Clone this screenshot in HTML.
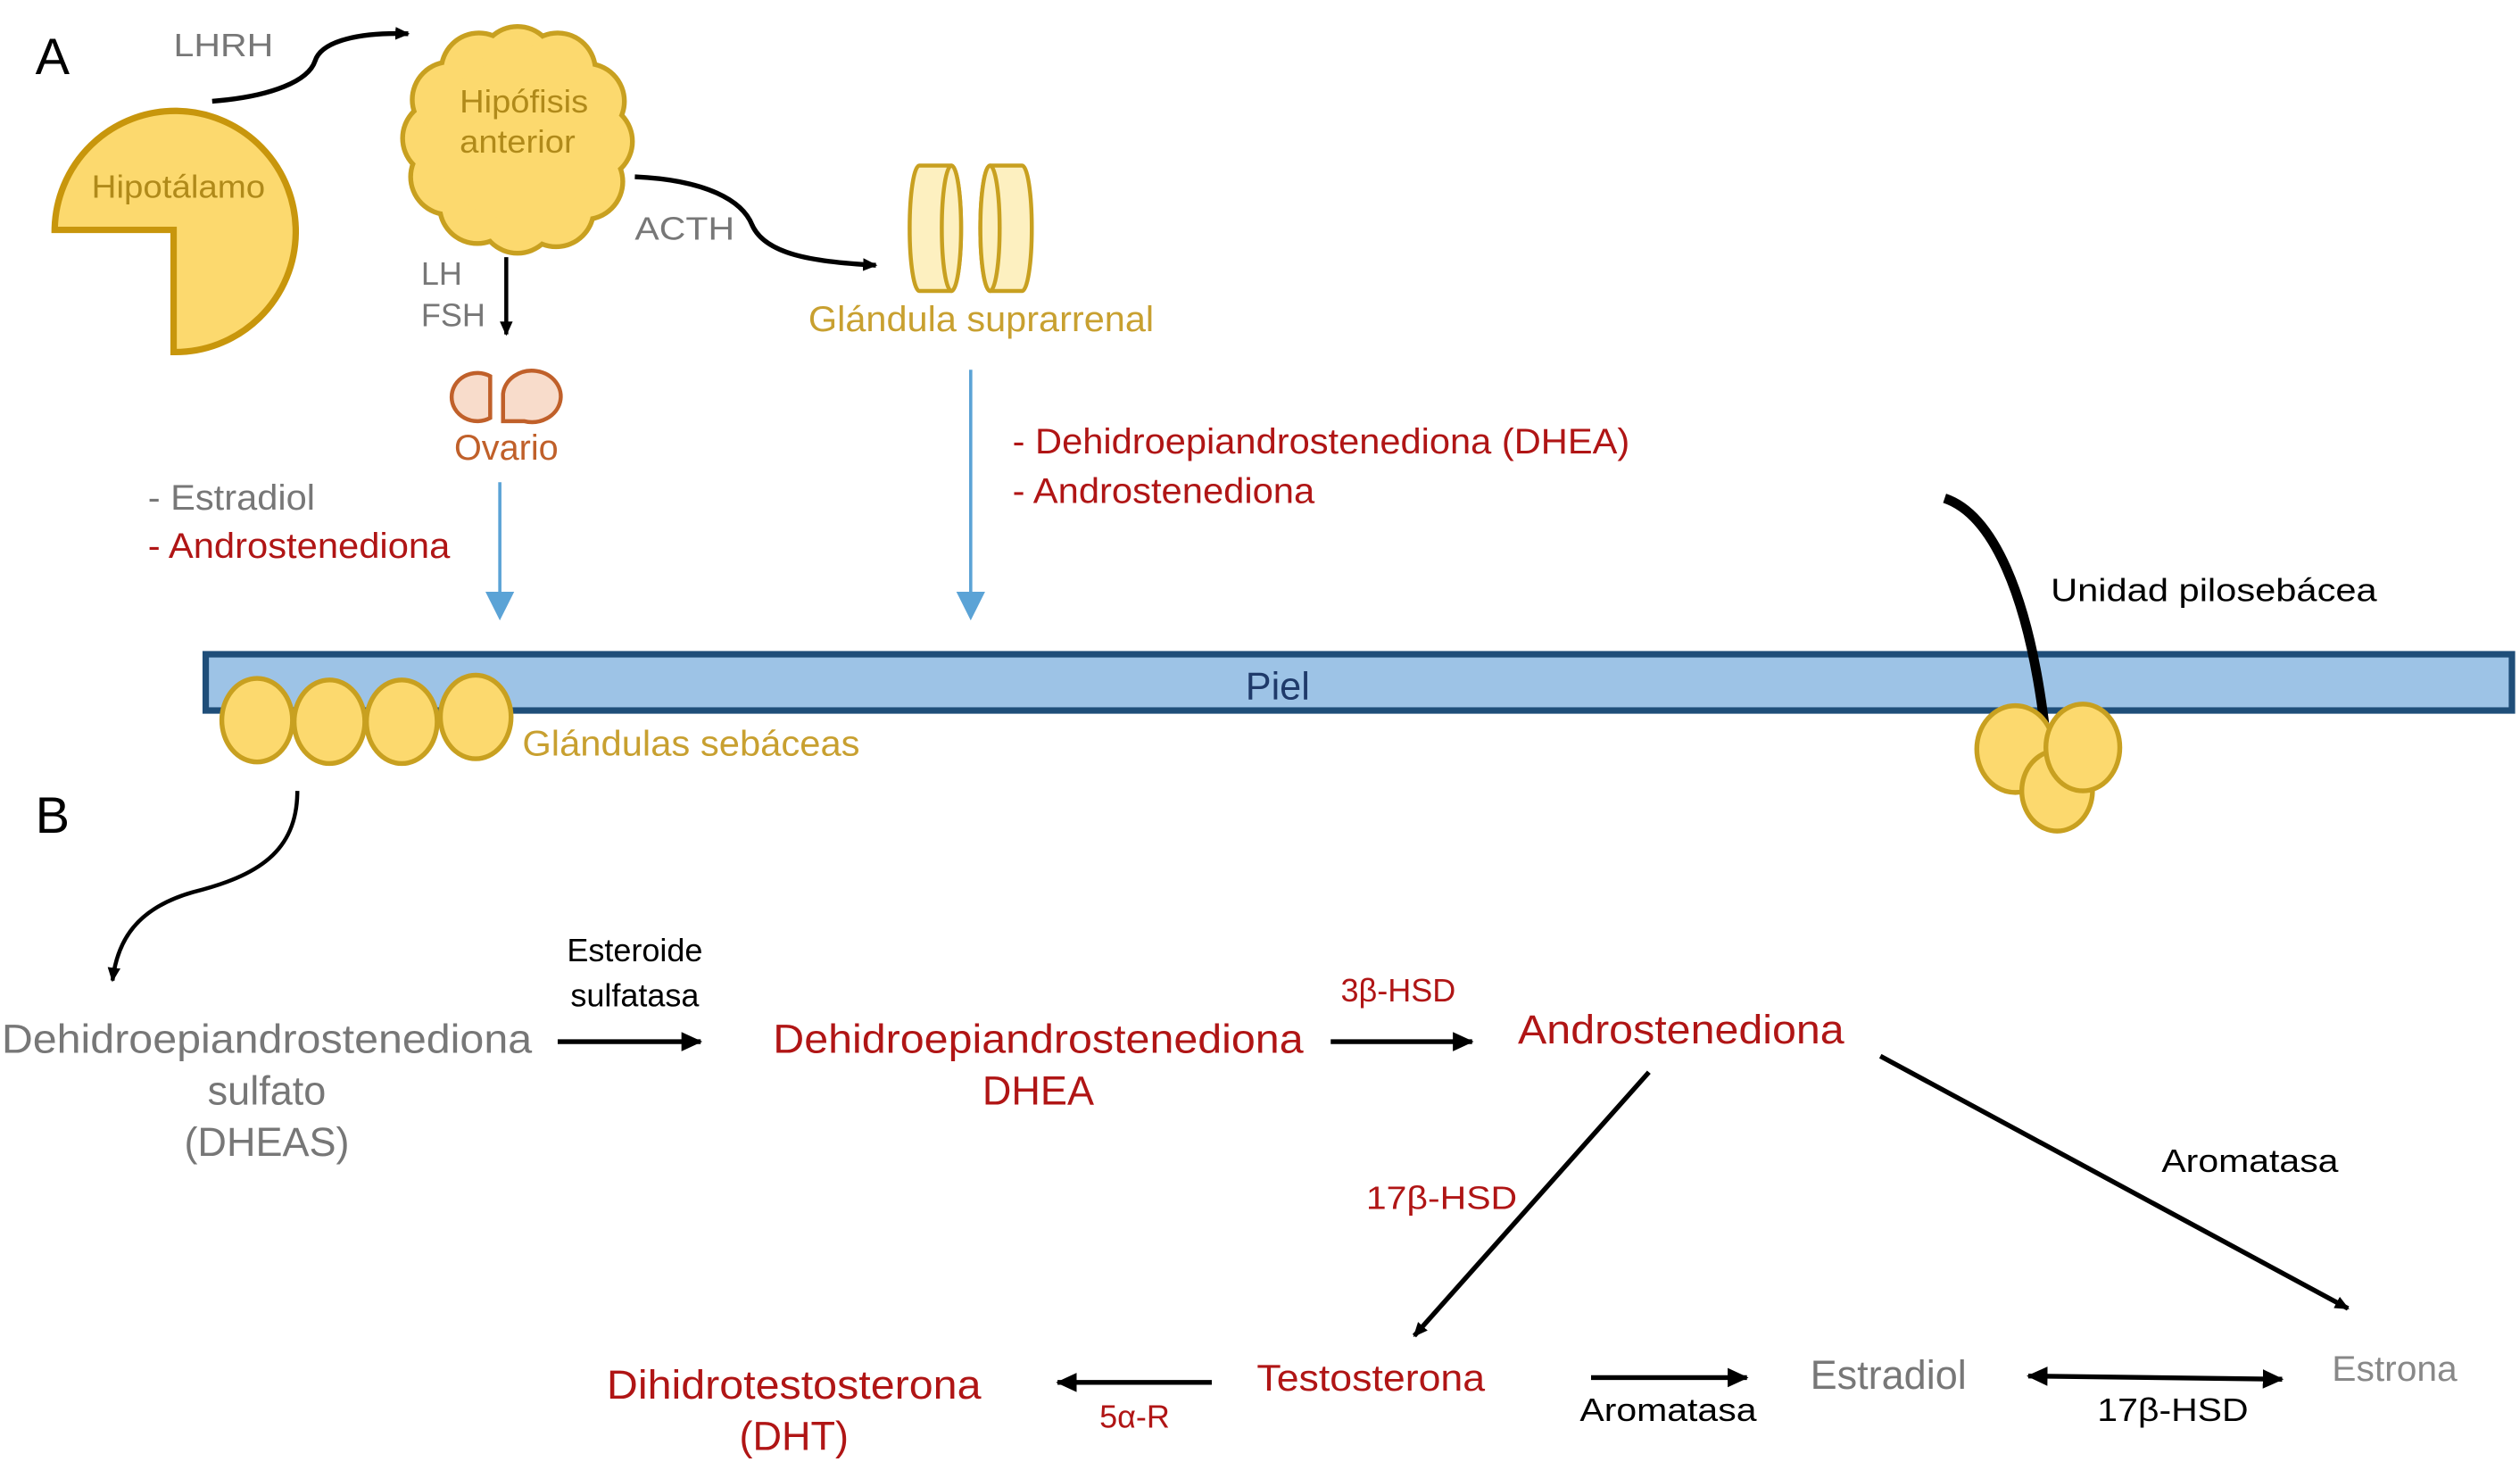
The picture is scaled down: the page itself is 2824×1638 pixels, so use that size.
<!DOCTYPE html>
<html><head><meta charset="utf-8"><style>html,body{margin:0;padding:0;background:#fff}svg{display:block}text{font-family:"Liberation Sans",sans-serif}</style></head>
<body>
<svg width="2824" height="1638" viewBox="0 0 1568 909.5" xmlns="http://www.w3.org/2000/svg">
<defs>
<marker id="ab" markerWidth="10" markerHeight="10" refX="8" refY="5" orient="auto" markerUnits="userSpaceOnUse"><path d="M0,1 L9,5 L0,9 Z" fill="#000"/></marker>
<marker id="abs" markerWidth="14" markerHeight="14" refX="12" refY="7" orient="auto-start-reverse" markerUnits="userSpaceOnUse"><path d="M0,1 L13,7 L0,13 Z" fill="#000"/></marker>
<marker id="bl" markerWidth="20" markerHeight="20" refX="10" refY="10" orient="auto" markerUnits="userSpaceOnUse"><path d="M0,1 L18,10 L0,19 Z" fill="#5ba3d6"/></marker>
</defs>
<rect width="1568" height="910" fill="#fff"/>
<text x="22" y="46" font-size="32">A</text>
<text x="22" y="518" font-size="32">B</text>
<text x="108" y="35" font-size="20" fill="#777" textLength="62" lengthAdjust="spacingAndGlyphs">LHRH</text>
<path d="M132,63 C170,60 192,50 196,38 C200,25 225,20 254,21" fill="none" stroke="#000" stroke-width="3" marker-end="url(#ab)"/>
<path d="M34,143 A75,75 0 1 1 108,219 L108,143 Z" fill="#fcd96e" stroke="#c8960c" stroke-width="4"/>
<text x="111" y="123" font-size="20" fill="#b08a1a" text-anchor="middle" textLength="108" lengthAdjust="spacingAndGlyphs">Hipotálamo</text>
<g stroke="#c8a020" stroke-width="6" fill="#fcd96e">
<circle cx="370" cy="88" r="22"/><circle cx="364" cy="113" r="22"/><circle cx="346" cy="130" r="22"/><circle cx="322" cy="134" r="22"/><circle cx="297" cy="128" r="22"/><circle cx="279" cy="110" r="22"/><circle cx="274" cy="86" r="22"/><circle cx="280" cy="62" r="22"/><circle cx="298" cy="44" r="22"/><circle cx="322" cy="40" r="22"/><circle cx="347" cy="44" r="22"/><circle cx="365" cy="63" r="22"/>
</g>
<g fill="#fcd96e">
<circle cx="370" cy="88" r="22"/><circle cx="364" cy="113" r="22"/><circle cx="346" cy="130" r="22"/><circle cx="322" cy="134" r="22"/><circle cx="297" cy="128" r="22"/><circle cx="279" cy="110" r="22"/><circle cx="274" cy="86" r="22"/><circle cx="280" cy="62" r="22"/><circle cx="298" cy="44" r="22"/><circle cx="322" cy="40" r="22"/><circle cx="347" cy="44" r="22"/><circle cx="365" cy="63" r="22"/>
<ellipse cx="322" cy="87" rx="52" ry="50"/>
</g>
<text x="326" y="70" font-size="20" fill="#b08a1a" text-anchor="middle" textLength="80" lengthAdjust="spacingAndGlyphs">Hipófisis</text>
<text x="322" y="95" font-size="20" fill="#b08a1a" text-anchor="middle" textLength="72" lengthAdjust="spacingAndGlyphs">anterior</text>
<text x="395" y="149" font-size="20" fill="#777" textLength="62" lengthAdjust="spacingAndGlyphs">ACTH</text>
<path d="M395,110 C440,112 462,125 468,140 C476,158 505,163 545,165" fill="none" stroke="#000" stroke-width="3" marker-end="url(#ab)"/>
<g fill="#fdf0c0" stroke="#c8a020" stroke-width="2.5">
<path d="M572,103 L592,103 A6,39 0 0 1 592,181 L572,181 A6,39 0 0 1 572,103 Z"/>
<ellipse cx="592" cy="142" rx="6" ry="39"/>
<path d="M616,103 L636,103 A6,39 0 0 1 636,181 L616,181 A6,39 0 0 1 616,103 Z"/>
<ellipse cx="616" cy="142" rx="6" ry="39"/>
</g>
<text x="503" y="206" font-size="22" fill="#c8a030" textLength="215" lengthAdjust="spacingAndGlyphs">Glándula suprarrenal</text>
<text x="262" y="177" font-size="20" fill="#777">LH</text>
<text x="262" y="203" font-size="20" fill="#777">FSH</text>
<line x1="315" y1="160" x2="315" y2="208" stroke="#000" stroke-width="2.5" marker-end="url(#ab)"/>
<g fill="#f8dccb" stroke="#c0602a" stroke-width="2.5">
<path d="M305,260 A16,15 0 1 1 305,234 L305,260 Z"/>
<path d="M313,262 L313,245 A18,16 0 1 1 326,262 Z"/>
</g>
<text x="315" y="286" font-size="22" fill="#c0602a" text-anchor="middle">Ovario</text>
<text x="92" y="317" font-size="22" fill="#777" textLength="104" lengthAdjust="spacingAndGlyphs">- Estradiol</text>
<text x="92" y="347" font-size="22" fill="#b01515" textLength="188" lengthAdjust="spacingAndGlyphs">- Androstenediona</text>
<line x1="311" y1="300" x2="311" y2="378" stroke="#5ba3d6" stroke-width="2" marker-end="url(#bl)"/>
<line x1="604" y1="230" x2="604" y2="378" stroke="#5ba3d6" stroke-width="2" marker-end="url(#bl)"/>
<text x="630" y="282" font-size="22" fill="#b01515" textLength="384" lengthAdjust="spacingAndGlyphs">- Dehidroepiandrostenediona (DHEA)</text>
<text x="630" y="313" font-size="22" fill="#b01515" textLength="188" lengthAdjust="spacingAndGlyphs">- Androstenediona</text>
<rect x="128" y="407" width="1435" height="35" fill="#9dc3e6" stroke="#1f4e79" stroke-width="4"/>
<text x="795" y="435" font-size="24" fill="#1f3a6a" text-anchor="middle">Piel</text>
<path d="M1210,310 C1240,320 1262,370 1272,450" fill="none" stroke="#000" stroke-width="6"/>
<text x="1276" y="374" font-size="20" fill="#000" textLength="203" lengthAdjust="spacingAndGlyphs">Unidad pilosebácea</text>
<g fill="#fcd96e" stroke="#c8a020" stroke-width="3">
<ellipse cx="1254" cy="466" rx="24" ry="27"/>
<ellipse cx="1280" cy="492" rx="22" ry="25"/>
<ellipse cx="1296" cy="465" rx="23" ry="27"/>
</g>
<g fill="#fcd96e" stroke="#c8a020" stroke-width="3">
<ellipse cx="160" cy="448" rx="22" ry="26"/>
<ellipse cx="205" cy="449" rx="22" ry="26"/>
<ellipse cx="250" cy="449" rx="22" ry="26"/>
<ellipse cx="296" cy="446" rx="22" ry="26"/>
</g>
<text x="325" y="470" font-size="22" fill="#c8a030" textLength="210" lengthAdjust="spacingAndGlyphs">Glándulas sebáceas</text>
<path d="M185,492 C185,530 160,545 120,555 C85,565 73,585 70,610" fill="none" stroke="#000" stroke-width="2.5" marker-end="url(#ab)"/>
<g font-size="25" text-anchor="middle">
<text x="166" y="655" fill="#777" textLength="330" lengthAdjust="spacingAndGlyphs">Dehidroepiandrostenediona</text>
<text x="166" y="687" fill="#777">sulfato</text>
<text x="166" y="719" fill="#777">(DHEAS)</text>
<text x="646" y="655" fill="#b01515" textLength="330" lengthAdjust="spacingAndGlyphs">Dehidroepiandrostenediona</text>
<text x="646" y="687" fill="#b01515">DHEA</text>
<text x="1046" y="649" fill="#b01515" textLength="203" lengthAdjust="spacingAndGlyphs">Androstenediona</text>
<text x="853" y="865" fill="#b01515" font-size="23" textLength="142" lengthAdjust="spacingAndGlyphs">Testosterona</text>
<text x="494" y="870" fill="#b01515" textLength="233" lengthAdjust="spacingAndGlyphs">Dihidrotestosterona</text>
<text x="494" y="902" fill="#b01515">(DHT)</text>
<text x="1175" y="864" fill="#777">Estradiol</text>
<text x="1490" y="859" fill="#888" font-size="22" textLength="78" lengthAdjust="spacingAndGlyphs">Estrona</text>
</g>
<g font-size="20" text-anchor="middle">
<text x="395" y="598">Esteroide</text>
<text x="395" y="626">sulfatasa</text>
<text x="870" y="623" fill="#b01515">3β-HSD</text>
<text x="897" y="752" fill="#b01515" textLength="94" lengthAdjust="spacingAndGlyphs">17β-HSD</text>
<text x="1400" y="729" textLength="110" lengthAdjust="spacingAndGlyphs">Aromatasa</text>
<text x="706" y="888" fill="#b01515">5α-R</text>
<text x="1038" y="884" textLength="110" lengthAdjust="spacingAndGlyphs">Aromatasa</text>
<text x="1352" y="884" textLength="94" lengthAdjust="spacingAndGlyphs">17β-HSD</text>
</g>
<g stroke="#000" stroke-width="3" fill="none">
<line x1="347" y1="648" x2="436" y2="648" marker-end="url(#abs)"/>
<line x1="828" y1="648" x2="916" y2="648" marker-end="url(#abs)"/>
<line x1="1026" y1="667" x2="880" y2="831" marker-end="url(#ab)"/>
<line x1="1170" y1="657" x2="1461" y2="814" marker-end="url(#ab)"/>
<line x1="754" y1="860" x2="658" y2="860" marker-end="url(#abs)"/>
<line x1="990" y1="857" x2="1087" y2="857" marker-end="url(#abs)"/>
<line x1="1262" y1="856" x2="1420" y2="858" marker-start="url(#abs)" marker-end="url(#abs)"/>
</g>
</svg>
</body></html>
